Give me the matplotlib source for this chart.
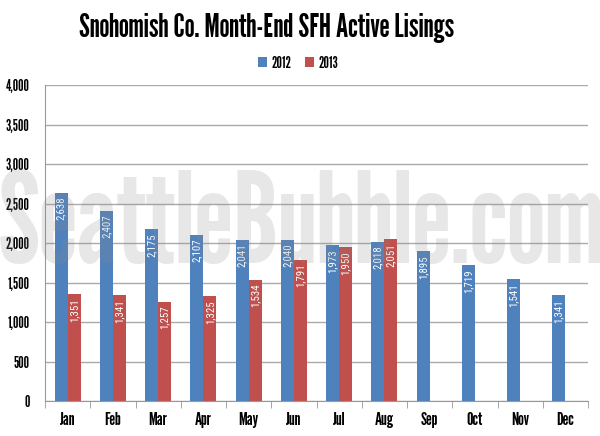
import numpy as np
import matplotlib.pyplot as plt

months = ['Jan', 'Feb', 'Mar', 'Apr', 'May', 'Jun', 'Jul', 'Aug', 'Sep', 'Oct', 'Nov', 'Dec']
y2012 = [2638, 2407, 2175, 2107, 2041, 2040, 1973, 2018, 1895, 1719, 1541, 1341]
y2013 = [1351, 1341, 1257, 1325, 1534, 1791, 1950, 2051]
yticks = [0, 500, 1000, 1500, 2000, 2500, 3000, 3500, 4000]

plt.rcParams['font.family'] = ['League Gothic', 'DejaVu Sans']
label_font = ['Roboto Condensed', 'DejaVu Sans']

blue = '#4f81bd'
red = '#c0504d'

fig = plt.figure(figsize=(6, 4.36), dpi=100)
ax = fig.add_axes([0.075, 0.08, 0.905, 0.725])

x = np.arange(len(months))
w = 0.29
b1 = ax.bar(x - w / 2, y2012, w, color=blue, zorder=2, label='2012')
b2 = ax.bar(x[:len(y2013)] + w / 2, y2013, w, color=red, zorder=2, label='2013')

for bars in (b1, b2):
    for r in bars:
        h = r.get_height()
        ax.text(r.get_x() + r.get_width() / 2, h - 50, f'{h:,.0f}', rotation=90,
                ha='center', va='top', color='white', fontsize=7.8, family=label_font, zorder=4)

ax.set_xlim(-0.5, len(months) - 0.5)
ax.set_ylim(0, 4000)
ax.set_yticks(yticks)
ax.set_yticklabels([f'{v:,}' for v in yticks], fontsize=11)
ax.set_xticks(x)
ax.set_xticklabels(months, fontsize=13)
ax.set_xticks(np.arange(-0.5, len(months)), minor=True)
ax.tick_params(axis='x', which='major', length=0, pad=8)
ax.tick_params(axis='x', which='minor', length=5, color='#999999')
ax.tick_params(axis='y', length=0, pad=11)
ax.yaxis.grid(True, color='#aaaaaa', linewidth=1, zorder=0)
ax.set_axisbelow(True)
for s in ['top', 'right']:
    ax.spines[s].set_visible(False)
ax.spines['left'].set_color('#999999')
ax.spines['bottom'].set_color('#999999')

# watermark
fig.text(0.502, 0.476, 'SeattleBubble.com', ha='center', va='center', fontsize=90,
         color='#888888', alpha=0.2, zorder=5)

fig.text(0.444, 0.935, 'Snohomish Co. Month-End SFH Active Lisings', ha='center', va='center',
         fontsize=23)
fig.legend(handles=[b1, b2], loc='center', bbox_to_anchor=(0.497, 0.855), ncol=2, frameon=False,
           handlelength=0.6, handleheight=0.6, columnspacing=0.9, handletextpad=0.3,
           prop={'size': 11})

fig.savefig('out.png', dpi=100)
